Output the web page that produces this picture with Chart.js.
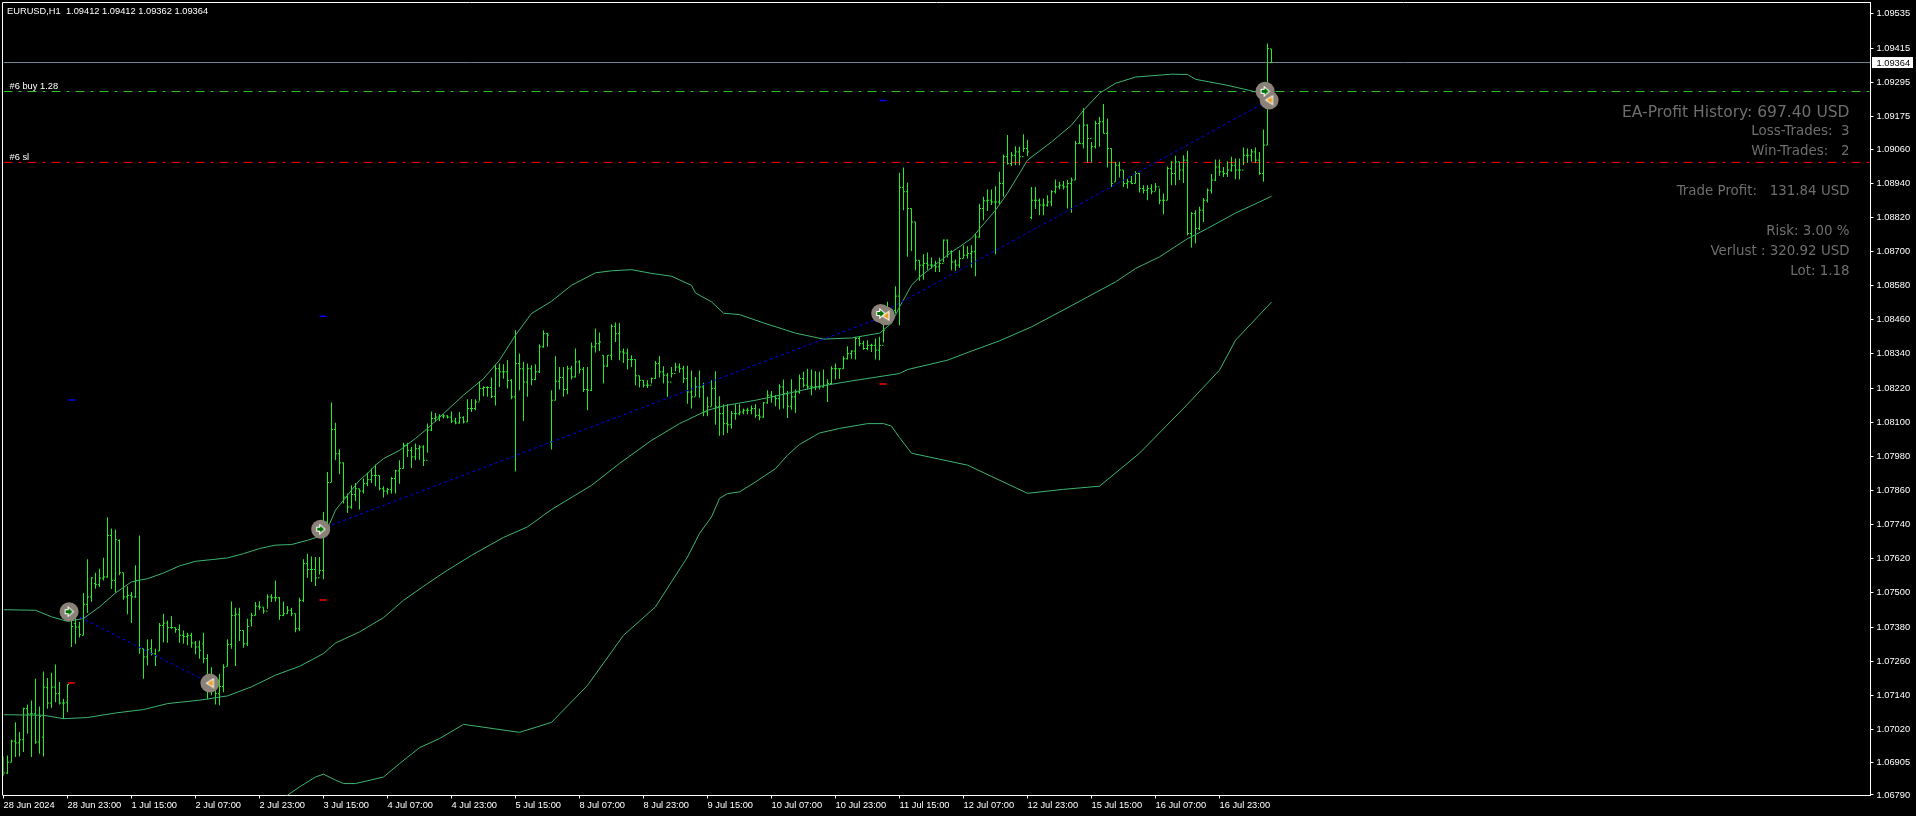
<!DOCTYPE html>
<html>
<head>
<meta charset="utf-8">
<title>EURUSD,H1</title>
<script src="https://cdn.jsdelivr.net/npm/chart.js@4"></script>
<style>
  html, body { margin: 0; padding: 0; background: #000; overflow: hidden; }
  #wrap { position: relative; width: 1916px; height: 816px; }
</style>
</head>
<body>
<div id="wrap"><canvas id="chart" width="1916" height="816"></canvas></div>
<script>
// all prices in points (1.09364 -> 109364)
const highs = [
106925,106929,106984,107045,107011,107096,107108,107122,107198,107101,107224,107201,107219,107248,107187,107128,107178,
107427,107415,107398,107500,107618,107555,107571,107585,107624,107766,107726,107723,107688,107571,107523,107503,107597,107702,
107304,107336,107337,107304,107394,107427,107403,107418,107378,107389,107368,107360,107360,107331,107333,107360,107284,107239,
107178,107216,107249,107337,107470,107448,107448,107368,107409,107430,107468,107471,107450,107495,107495,107544,107486,107470,
107454,107448,107427,107483,107618,107638,107628,107626,107626,107784,107925,108169,108098,108005,107958,107849,107878,107886,
107866,107902,107922,107937,107951,107913,107875,107870,107907,107933,107966,108028,108028,108013,108025,108019,108019,108095,
108138,108132,108128,108128,108124,108138,108116,108136,108121,108181,108181,108181,108244,108226,108226,108257,108304,108306,
108304,108318,108251,108423,108341,108312,108306,108300,108304,108374,108423,108414,108212,108332,108294,108294,108298,108298,
108359,108318,108294,108294,108380,108429,108415,108335,108335,108444,108450,108449,108359,108359,108335,108320,108263,108247,
108247,108257,108315,108332,108297,108273,108294,108309,108306,108298,108298,108282,108259,108282,108239,108189,108247,108279,
108191,108163,108163,108139,108163,108163,108148,108151,108159,108163,108148,108171,108212,108210,108195,108233,108250,108210,
108251,108215,108268,108277,108288,108285,108280,108277,108285,108251,108297,108306,108288,108332,108367,108353,108400,108400,
108386,108388,108376,108394,108400,108493,108523,108499,108578,108977,108995,108942,108851,108804,108669,108690,108696,108679,
108667,108679,108742,108742,108704,108672,108704,108722,108718,108722,108763,108868,108892,108918,108918,108929,108980,109041,
109109,109050,109070,109068,109112,109093,108927,108927,108886,108886,108898,108915,108953,108945,108948,108951,108960,109089,
109147,109203,109147,109085,109159,109173,109218,109167,109062,109015,109015,108986,108956,108965,108982,108977,108933,108933,
108936,108941,108921,108904,108999,109018,109036,109015,109038,109054,108839,108845,108857,108888,108921,108972,109023,109023,
108997,109017,109033,109027,109027,109065,109062,109060,109065,109050,109129,109431,109412];

const lows = [
106857,106864,106905,106923,106925,106941,107005,106923,106970,106935,106925,107093,107096,107116,107108,107058,107081,
107310,107321,107343,107351,107429,107469,107515,107521,107544,107553,107514,107501,107562,107476,107425,107394,107483,107286,
107198,107245,107280,107243,107296,107327,107325,107374,107360,107325,107321,107316,107307,107284,107269,107253,107126,107140,
107108,107105,107151,107242,107304,107243,107331,107307,107313,107382,107421,107441,107427,107444,107468,107470,107406,107418,
107427,107418,107362,107366,107468,107553,107538,107524,107565,107548,107726,107890,107966,107917,107814,107781,107796,107823,
107793,107849,107875,107886,107875,107861,107835,107846,107849,107849,107884,107937,107978,107939,107966,107968,107946,107993,
108069,108101,108104,108113,108113,108097,108093,108095,108095,108101,108136,108142,108175,108191,108189,108185,108159,108224,
108253,108218,108181,107927,108212,108104,108189,108230,108247,108273,108362,108365,108004,108177,108215,108189,108198,108250,
108257,108271,108206,108142,108210,108345,108350,108236,108294,108318,108382,108318,108308,108285,108294,108230,108222,108222,
108220,108236,108253,108257,108236,108189,108257,108279,108274,108238,108165,108148,108191,108186,108121,108121,108156,108091,
108052,108054,108062,108077,108109,108124,108128,108128,108128,108116,108107,108116,108165,108168,108156,108145,108148,108115,
108144,108132,108200,108222,108215,108195,108212,108215,108222,108171,108233,108250,108253,108288,108320,108323,108320,108367,
108355,108353,108347,108320,108318,108380,108458,108447,108482,108441,108845,108681,108702,108634,108597,108601,108636,108640,
108628,108628,108663,108679,108634,108632,108643,108677,108675,108643,108613,108749,108810,108842,108863,108690,108863,108892,
109006,109000,109003,109003,109050,109035,108813,108849,108827,108827,108857,108859,108904,108918,108918,108851,108836,108951,
109079,109062,109013,109013,109062,109068,109115,108995,108927,108945,108960,108927,108921,108936,108939,108907,108904,108880,
108901,108913,108866,108831,108880,108933,108933,108951,108941,108757,108714,108728,108775,108804,108872,108904,108948,108966,
108962,108962,108980,108954,108953,109003,109011,109015,109011,108970,108945,109074,109362];

const opens = [
106862,106867,106905,106979,106973,106984,107093,107075,107075,106976,106993,107167,107113,107169,107146,107113,107116,
107415,107392,107380,107351,107460,107486,107533,107529,107552,107556,107702,107544,107684,107571,107486,107491,107486,107544,
107304,107275,107304,107286,107296,107386,107394,107378,107378,107371,107351,107347,107351,107324,107310,107321,107269,107187,
107181,107146,107171,107242,107319,107421,107425,107368,107321,107402,107421,107453,107450,107436,107486,107483,107483,107421,
107427,107439,107427,107374,107474,107603,107582,107582,107553,107579,107749,107888,108074,107989,107957,107837,107802,107846,
107866,107858,107884,107898,107913,107913,107866,107858,107863,107902,107929,107937,108019,108001,107978,108007,108013,107966,
108072,108113,108118,108121,108122,108118,108104,108097,108116,108101,108148,108148,108171,108218,108222,108222,108191,108288,
108277,108277,108247,108189,108306,108288,108241,108288,108250,108277,108365,108411,108030,108177,108244,108257,108215,108288,
108259,108312,108286,108215,108212,108365,108376,108335,108297,108335,108437,108411,108347,108343,108320,108320,108263,108247,
108230,108230,108253,108306,108277,108265,108241,108271,108294,108288,108253,108206,108189,108224,108224,108136,108154,108218,
108154,108130,108095,108091,108130,108130,108136,108142,108142,108148,108124,108118,108168,108195,108189,108183,108224,108200,
108156,108189,108206,108253,108230,108224,108224,108224,108224,108230,108236,108288,108288,108288,108323,108341,108350,108394,
108376,108359,108370,108370,108353,108370,108458,108482,108493,108543,108925,108910,108851,108804,108669,108652,108658,108652,
108652,108646,108658,108740,108699,108663,108652,108675,108687,108693,108699,108751,108851,108878,108880,108874,108874,108939,
109033,109009,109038,109050,109033,109062,108819,108880,108880,108863,108863,108874,108910,108927,108933,108927,108939,108951,
109079,109079,109144,109097,109068,109150,109156,109115,109062,108945,109003,108986,108939,108945,108939,108974,108921,108915,
108921,108910,108927,108880,108880,108992,108974,109015,108986,109021,108763,108833,108781,108845,108880,108915,108951,108997,
108980,108974,108986,109003,108986,108986,109038,109038,109050,109021,108974,109074,109412];

const closes = [
106867,106905,106979,106973,106984,107093,107075,107075,106976,107066,107169,107113,107169,107146,107113,107113,107178,
107382,107380,107353,107460,107486,107553,107529,107552,107556,107702,107544,107687,107571,107486,107491,107486,107544,107304,
107275,107300,107286,107277,107386,107394,107378,107378,107371,107351,107347,107351,107324,107310,107298,107269,107187,107181,
107146,107171,107239,107319,107421,107425,107368,107321,107382,107421,107453,107450,107436,107486,107483,107483,107421,107427,
107439,107427,107374,107474,107603,107582,107582,107553,107579,107749,107888,108074,107989,107957,107837,107802,107846,107866,
107858,107884,107898,107913,107913,107866,107858,107863,107902,107929,107937,108019,108001,107978,108007,108013,107966,108072,
108113,108118,108121,108122,108118,108104,108097,108116,108101,108148,108148,108171,108218,108222,108222,108191,108288,108277,
108277,108247,108189,108306,108288,108241,108288,108250,108277,108365,108411,108406,108177,108244,108257,108215,108288,108259,
108312,108286,108215,108212,108365,108376,108382,108297,108335,108437,108411,108347,108343,108320,108320,108263,108247,108230,
108230,108253,108306,108277,108265,108241,108271,108294,108288,108253,108206,108189,108224,108224,108136,108154,108218,108154,
108130,108095,108091,108130,108130,108136,108142,108142,108148,108124,108118,108168,108195,108189,108183,108224,108200,108156,
108189,108206,108253,108230,108224,108224,108224,108224,108230,108236,108288,108288,108288,108323,108341,108350,108394,108376,
108359,108370,108370,108353,108370,108423,108482,108493,108543,108925,108910,108851,108804,108669,108652,108658,108652,108652,
108646,108658,108740,108699,108663,108652,108675,108687,108693,108699,108751,108851,108878,108880,108874,108874,108939,109033,
109009,109038,109050,109033,109062,109050,108880,108880,108863,108863,108874,108910,108927,108933,108927,108939,108951,109079,
109079,109144,109097,109068,109150,109156,109115,109062,108939,109003,108986,108939,108945,108939,108974,108921,108915,108921,
108910,108927,108880,108880,108992,108974,109015,108986,109021,108763,108833,108781,108845,108880,108915,108951,108997,108980,
108974,108986,109003,108986,108986,109038,109038,109050,109021,108974,109074,109413,109364];

// bollinger bands at the bars listed
const upperBars = [0,8,12,16,20,24,28,32,36,40,44,48,52,56,60,64,68,72,76,80,81,83,85,87,89,91,93,95,99,103,106,110,115,120,124,128,132,137,142,148,152,157,162,167,172,173,177,180,184,190,198,205,212,219,222,224,227,229,236,242,248,251,256,262,267,270,274,278,283,292,296,298,306,313,317];
const upperBand = [107441,107439,107416,107400,107410,107451,107500,107539,107550,107570,107595,107611,107617,107623,107638,107656,107668,107670,107685,107703,107726,107791,107826,107861,107896,107920,107949,107972,108001,108043,108078,108130,108195,108253,108318,108406,108482,108525,108581,108625,108632,108636,108623,108613,108581,108554,108523,108483,108478,108449,108413,108392,108396,108413,108448,108505,108581,108610,108687,108746,108845,108905,109021,109085,109144,109196,109256,109291,109313,109323,109322,109305,109284,109261,109256];

const middleBars = [0,10,15,21,28,35,41,49,56,62,68,74,80,83,89,95,100,106,111,117,125,131,137,147,154,162,169,176,181,188,196,204,212,224,226,236,242,249,257,264,271,278,283,289,296,301,308,314,317];
const middleBand = [107072,107070,107058,107062,107078,107090,107111,107123,107138,107170,107211,107242,107287,107324,107363,107413,107474,107533,107580,107632,107695,107732,107793,107878,107955,108036,108095,108142,108160,108177,108201,108226,108245,108271,108285,108318,108350,108386,108435,108487,108540,108593,108640,108681,108745,108781,108835,108874,108894];

const lowerBars = [68,71,74,78,80,83,85,88,95,99,104,109,115,129,137,146,155,163,167,171,174,177,179,181,184,188,193,196,199,204,209,216,220,222,224,227,241,256,265,274,284,296,304,308,317];
const lowerBand = [106764,106789,106818,106853,106863,106842,106830,106830,106853,106900,106956,106988,107038,107010,107045,107175,107351,107451,107539,107626,107709,107767,107832,107849,107855,107890,107937,107984,108022,108062,108078,108095,108095,108086,108046,107991,107949,107850,107864,107875,107991,108163,108283,108388,108522];

// trades
const entryBars = [16.4, 79.3, 219.3, 315.4];
const entryPrices = [107434, 107724, 108482, 109263];
const exitBars = [51.6, 220.5, 316.4];
const exitPrices = [107183, 108474, 109232];
const levelBars = [16.1, 79, 219];
const takeProfits = [108178, 108472, 109231];
const stopLosses = [107183, 107475, 108234];

const bidPrice = 109364;
const buyPrice = 109262;
const stopPrice = 109013;

const priceTicks = ['1.09535','1.09415','1.09295','1.09175','1.09060','1.08940','1.08820','1.08700','1.08580','1.08460','1.08340','1.08220','1.08100','1.07980','1.07860','1.07740','1.07620','1.07500','1.07380','1.07260','1.07140','1.07020','1.06905','1.06790'];
const timeTicks = ['28 Jun 2024','28 Jun 23:00','1 Jul 15:00','2 Jul 07:00','2 Jul 23:00','3 Jul 15:00','4 Jul 07:00','4 Jul 23:00','5 Jul 15:00','8 Jul 07:00','8 Jul 23:00','9 Jul 15:00','10 Jul 07:00','10 Jul 23:00','11 Jul 15:00','12 Jul 07:00','12 Jul 23:00','15 Jul 15:00','16 Jul 07:00','16 Jul 23:00'];
const barsPerTimeTick = 16;

const panelLines = [
  ['EA-Profit History: 697.40 USD', 112.7, 15.5],
  ['Loss-Trades:  3', 131.5, 13.4],
  ['Win-Trades:   2', 151.3, 13.4],
  ['Trade Profit:   131.84 USD', 191.4, 13.4],
  ['Risk: 3.00 %', 231.6, 13.4],
  ['Verlust : 320.92 USD', 252, 13.4],
  ['Lot: 1.18', 271.8, 13.4]
];

const BAR_GREEN = '#20f020';
const BAND_GREEN = '#3cb371';
const AXIS_FONT = { family: '"Liberation Sans"', size: 9.3 };
const lastBar = (1870.5 - 3.5) / 4; // the axis runs on past the newest bar

const toPoints = (bars, values) => bars.map((x, i) => ({ x: x, y: values[i] }));
const seq = (values) => values.map((y, i) => ({ x: i, y: y }));
const flatLine = (y) => [{ x: 0, y: y }, { x: lastBar, y: y }];

function makeIcon(draw) {
  const c = document.createElement('canvas');
  c.width = 11;
  c.height = 11;
  draw(c.getContext('2d'));
  return c;
}

function polygon(ctx, pts, fill) {
  ctx.beginPath();
  pts.forEach((p, i) => (i ? ctx.lineTo(p[0], p[1]) : ctx.moveTo(p[0], p[1])));
  ctx.closePath();
  ctx.fillStyle = fill;
  ctx.strokeStyle = '#fff';
  ctx.lineWidth = 2;
  ctx.stroke();
  ctx.fill();
}

const entryIcon = makeIcon((ctx) => polygon(ctx, [[2,4],[5,4],[5,2],[9,5.5],[5,9],[5,7],[2,7]], '#007000'));
const exitIcon = makeIcon((ctx) => polygon(ctx, [[8.5,2],[8.5,9],[3,5.5]], '#e8a020'));

const tradeLine = (from, to) => ({
  type: 'line',
  data: [{ x: entryBars[from], y: entryPrices[from] }, { x: exitBars[to], y: exitPrices[to] }],
  borderColor: '#0000ff',
  borderWidth: 1,
  borderDash: [3, 3],
  pointRadius: 0,
  order: 3
});

const levelLine = (y, color, dash) => ({
  type: 'line',
  data: flatLine(y),
  borderColor: color,
  borderWidth: 1,
  borderDash: dash,
  pointRadius: 0,
  order: 8
});

const bandLine = (data) => ({
  type: 'line',
  data: data,
  borderColor: BAND_GREEN,
  borderWidth: 1,
  pointRadius: 0,
  tension: 0,
  order: 4
});

const marks = (data, style, radius, rotation, color, width, order) => ({
  type: 'line',
  data: data,
  showLine: false,
  pointStyle: style,
  pointRadius: radius,
  pointRotation: rotation,
  pointBorderColor: color,
  pointBackgroundColor: color,
  pointBorderWidth: width,
  order: order
});

// keep tick labels from pushing the plot area in
const noLabelPadding = (s) => {
  s.paddingLeft = 0;
  s.paddingRight = 0;
  s.paddingTop = 0;
  s.paddingBottom = 0;
};

// texts and frame the axes don't draw
const overlay = {
  id: 'overlay',
  afterDraw(chart) {
    const ctx = chart.ctx;
    const area = chart.chartArea;
    const y = chart.scales.y;
    ctx.save();
    ctx.strokeStyle = '#fff';
    ctx.lineWidth = 1;
    ctx.beginPath();
    ctx.moveTo(2.5, 795.5);
    ctx.lineTo(2.5, 2.5);
    ctx.lineTo(area.right, 2.5);
    ctx.stroke();

    ctx.textBaseline = 'middle';
    ctx.textAlign = 'left';
    ctx.fillStyle = '#fff';
    ctx.font = '9.3px "Liberation Sans"';
    ctx.fillText('EURUSD,H1  1.09412 1.09412 1.09362 1.09364', 7, 11);
    ctx.fillText('#6 buy 1.28', 9.5, 86);
    ctx.fillText('#6 sl', 9.5, 157);

    const bidY = y.getPixelForValue(bidPrice);
    ctx.fillRect(1872, bidY - 5.5, 41, 11);
    ctx.fillStyle = '#000';
    ctx.fillText((bidPrice / 100000).toFixed(5), 1876.5, bidY + 0.5);

    ctx.textAlign = 'right';
    ctx.fillStyle = '#6e6e6e';
    panelLines.forEach((line) => {
      ctx.font = line[2] + 'px "DejaVu Sans"';
      ctx.fillText(line[0], 1849.5, line[1]);
    });
    ctx.restore();
  }
};

new Chart(document.getElementById('chart'), {
  data: {
    datasets: [
      { type: 'bar', data: highs.map((h, i) => ({ x: i, y: [lows[i], h] })), backgroundColor: BAR_GREEN, borderWidth: 0, barThickness: 1, inflateAmount: 0, order: 6 },
      marks(seq(opens), 'dash', 1.5, 180, BAR_GREEN, 1, 6),
      marks(seq(closes), 'dash', 1.5, 0, BAR_GREEN, 1, 6),
      bandLine(toPoints(upperBars, upperBand)),
      bandLine(toPoints(middleBars, middleBand)),
      bandLine(toPoints(lowerBars, lowerBand)),
      levelLine(bidPrice, '#778899', []),
      levelLine(buyPrice, '#32cd32', [9, 6, 3, 6]),
      levelLine(stopPrice, '#ff0000', [9, 6, 3, 6]),
      tradeLine(0, 0),
      tradeLine(1, 1),
      tradeLine(2, 2),
      marks(toPoints(levelBars, takeProfits), 'dash', 7, 0, '#0000ff', 1.5, 5),
      marks(toPoints(levelBars, stopLosses), 'dash', 7, 0, '#ff0000', 1.5, 5),
      marks(toPoints(entryBars, entryPrices), 'circle', 9.5, 0, '#8a8178', 0, 2),
      marks(toPoints(exitBars, exitPrices), 'circle', 9.5, 0, '#8a8178', 0, 2),
      marks(toPoints(entryBars, entryPrices), entryIcon, 5, 0, '#fff', 0, 1),
      marks(toPoints(exitBars, exitPrices), exitIcon, 5, 0, '#fff', 0, 1)
    ]
  },
  options: {
    responsive: false,
    animation: false,
    events: [],
    // autoPadding would push the plot in to fit the big trade circles
    layout: { autoPadding: false, padding: { left: 3.5, top: 2.5, right: 0, bottom: 0 } },
    plugins: { legend: { display: false }, tooltip: { enabled: false } },
    scales: {
      x: {
        type: 'linear',
        offset: false,
        min: 0,
        max: lastBar,
        afterFit: (s) => { s.height = 20.5; noLabelPadding(s); },
        afterBuildTicks: (s) => { s.ticks = timeTicks.map((t, k) => ({ value: k * barsPerTimeTick })); },
        grid: { drawOnChartArea: false, color: '#fff', tickLength: 3, offset: false },
        border: { color: '#fff' },
        ticks: {
          autoSkip: false,
          maxRotation: 0,
          align: 'start',
          padding: 1,
          color: '#fff',
          font: AXIS_FONT,
          callback: (v) => timeTicks[v / barsPerTimeTick]
        }
      },
      y: {
        position: 'right',
        min: 106788,
        max: 109575,
        afterFit: (s) => { s.width = 45.5; noLabelPadding(s); },
        afterBuildTicks: (s) => { s.ticks = priceTicks.map((t) => ({ value: Math.round(parseFloat(t) * 100000) })); },
        grid: { drawOnChartArea: false, color: '#fff', tickLength: 3 },
        border: { color: '#fff' },
        ticks: {
          autoSkip: false,
          padding: 3,
          color: '#fff',
          font: AXIS_FONT,
          callback: (v) => (v / 100000).toFixed(5)
        }
      }
    }
  },
  plugins: [overlay]
});
</script>
</body>
</html>
